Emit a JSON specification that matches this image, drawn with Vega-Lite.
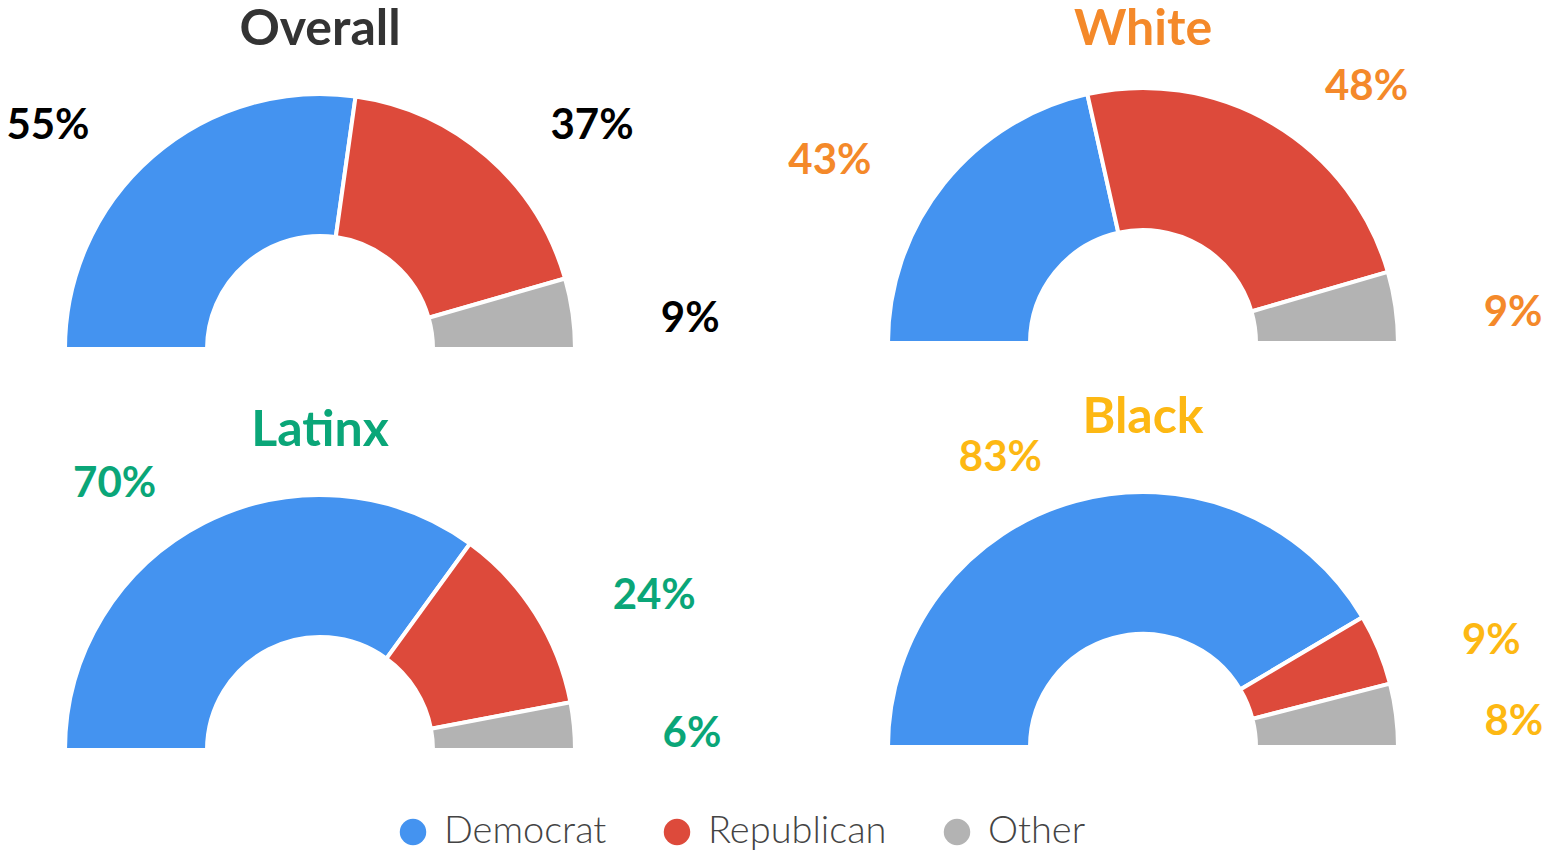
{
  "$schema": "https://vega.github.io/schema/vega-lite/v6.json",
  "padding": {"top": 5, "left": 0, "right": 0, "bottom": 0},
  "bounds": "flush",
  "background": "white",
  "data": {"values": [
    {"group": "Overall", "party": "Democrat", "value": 0.55, "order": 1},
    {"group": "Overall", "party": "Republican", "value": 0.37, "order": 2},
    {"group": "Overall", "party": "Other", "value": 0.09, "order": 3},
    {"group": "White", "party": "Democrat", "value": 0.43, "order": 1},
    {"group": "White", "party": "Republican", "value": 0.48, "order": 2},
    {"group": "White", "party": "Other", "value": 0.09, "order": 3},
    {"group": "Latinx", "party": "Democrat", "value": 0.70, "order": 1},
    {"group": "Latinx", "party": "Republican", "value": 0.24, "order": 2},
    {"group": "Latinx", "party": "Other", "value": 0.06, "order": 3},
    {"group": "Black", "party": "Democrat", "value": 0.83, "order": 1},
    {"group": "Black", "party": "Republican", "value": 0.09, "order": 2},
    {"group": "Black", "party": "Other", "value": 0.08, "order": 3}
  ]},
  "spacing": {"row": 101, "column": 183},
  "columns": 2,
  "concat": [
    {
      "title": {"text": "Overall", "color": "#333333"},
      "width": 640, "height": 300,
      "transform": [{"filter": "datum.group === 'Overall'"}],
      "encoding": {
        "theta": {"field": "value", "type": "quantitative", "stack": true, "scale": {"range": [-1.5708, 1.5708]}},
        "order": {"field": "order", "type": "quantitative"}
      },
      "layer": [
        {"mark": {"type": "arc", "innerRadius": 113, "outerRadius": 255, "y": "height", "stroke": "white", "strokeWidth": 4},
         "encoding": {"color": {"field": "party", "type": "nominal", "scale": {"domain": ["Democrat", "Republican", "Other"], "range": ["#4493F0", "#DD4A3B", "#B3B3B3"]}}}},
        {"mark": {"type": "text", "radius": 330, "y": "height", "baseline": "top", "align": {"expr": "(datum.value_start + datum.value_end) < 1 ? 'right' : 'left'"}, "dx": {"expr": "(datum.value_start + datum.value_end) < 1 ? -14 : 14"}, "dy": {"expr": "16 * sin(PI * (datum.value_start + datum.value_end) / 2) - 6"}, "color": "#000000", "fontSize": 42, "fontWeight": "bold", "font": "Lato"},
         "encoding": {"detail": {"field": "party"}, "text": {"field": "value", "type": "quantitative", "format": ".0%"}}}
      ]
    },
    {
      "title": {"text": "White", "color": "#F4892A"},
      "width": 640, "height": 294,
      "transform": [{"filter": "datum.group === 'White'"}],
      "encoding": {
        "theta": {"field": "value", "type": "quantitative", "stack": true, "scale": {"range": [-1.5708, 1.5708]}},
        "order": {"field": "order", "type": "quantitative"}
      },
      "layer": [
        {"mark": {"type": "arc", "innerRadius": 113, "outerRadius": 255, "y": "height", "stroke": "white", "strokeWidth": 4},
         "encoding": {"color": {"field": "party", "type": "nominal", "scale": {"domain": ["Democrat", "Republican", "Other"], "range": ["#4493F0", "#DD4A3B", "#B3B3B3"]}}}},
        {"mark": {"type": "text", "radius": 330, "y": "height", "baseline": "top", "align": {"expr": "(datum.value_start + datum.value_end) < 1 ? 'right' : 'left'"}, "dx": {"expr": "(datum.value_start + datum.value_end) < 1 ? -14 : 14"}, "dy": {"expr": "16 * sin(PI * (datum.value_start + datum.value_end) / 2) - 6"}, "color": "#F4892A", "fontSize": 42, "fontWeight": "bold", "font": "Lato"},
         "encoding": {"detail": {"field": "party"}, "text": {"field": "value", "type": "quantitative", "format": ".0%"}}}
      ]
    },
    {
      "title": {"text": "Latinx", "color": "#0AA678"},
      "width": 640, "height": 300,
      "transform": [{"filter": "datum.group === 'Latinx'"}],
      "encoding": {
        "theta": {"field": "value", "type": "quantitative", "stack": true, "scale": {"range": [-1.5708, 1.5708]}},
        "order": {"field": "order", "type": "quantitative"}
      },
      "layer": [
        {"mark": {"type": "arc", "innerRadius": 113, "outerRadius": 255, "y": "height", "stroke": "white", "strokeWidth": 4},
         "encoding": {"color": {"field": "party", "type": "nominal", "scale": {"domain": ["Democrat", "Republican", "Other"], "range": ["#4493F0", "#DD4A3B", "#B3B3B3"]}}}},
        {"mark": {"type": "text", "radius": 330, "y": "height", "baseline": "top", "align": {"expr": "(datum.value_start + datum.value_end) < 1 ? 'right' : 'left'"}, "dx": {"expr": "(datum.value_start + datum.value_end) < 1 ? -14 : 14"}, "dy": {"expr": "16 * sin(PI * (datum.value_start + datum.value_end) / 2) - 6"}, "color": "#0AA678", "fontSize": 42, "fontWeight": "bold", "font": "Lato"},
         "encoding": {"detail": {"field": "party"}, "text": {"field": "value", "type": "quantitative", "format": ".0%"}}}
      ]
    },
    {
      "title": {"text": "Black", "color": "#FDB813"},
      "width": 640, "height": 297,
      "transform": [{"filter": "datum.group === 'Black'"}],
      "encoding": {
        "theta": {"field": "value", "type": "quantitative", "stack": true, "scale": {"range": [-1.5708, 1.5708]}},
        "order": {"field": "order", "type": "quantitative"}
      },
      "layer": [
        {"mark": {"type": "arc", "innerRadius": 113, "outerRadius": 255, "y": "height", "stroke": "white", "strokeWidth": 4},
         "encoding": {"color": {"field": "party", "type": "nominal", "scale": {"domain": ["Democrat", "Republican", "Other"], "range": ["#4493F0", "#DD4A3B", "#B3B3B3"]}}}},
        {"mark": {"type": "text", "radius": 330, "y": "height", "baseline": "top", "align": {"expr": "(datum.value_start + datum.value_end) < 1 ? 'right' : 'left'"}, "dx": {"expr": "(datum.value_start + datum.value_end) < 1 ? -14 : 14"}, "dy": {"expr": "16 * sin(PI * (datum.value_start + datum.value_end) / 2) - 6"}, "color": "#FDB813", "fontSize": 42, "fontWeight": "bold", "font": "Lato"},
         "encoding": {"detail": {"field": "party"}, "text": {"field": "value", "type": "quantitative", "format": ".0%"}}}
      ]
    }
  ],
  "resolve": {"scale": {"color": "shared"}},
  "config": {
    "view": {"stroke": null},
    "title": {"font": "Lato", "fontSize": 50, "fontWeight": "bold", "offset": -6, "frame": "group"},
    "legend": {
      "orient": "none", "legendX": 394, "legendY": 764, "direction": "horizontal", "title": null,
      "symbolType": "circle", "symbolSize": 700, "symbolStrokeWidth": 0,
      "labelFont": "Lato", "labelFontSize": 38, "labelFontWeight": 300, "labelColor": "#444444",
      "columnPadding": 51, "symbolOffset": 0, "labelOffset": 12, "labelLimit": 400
    }
  }
}
